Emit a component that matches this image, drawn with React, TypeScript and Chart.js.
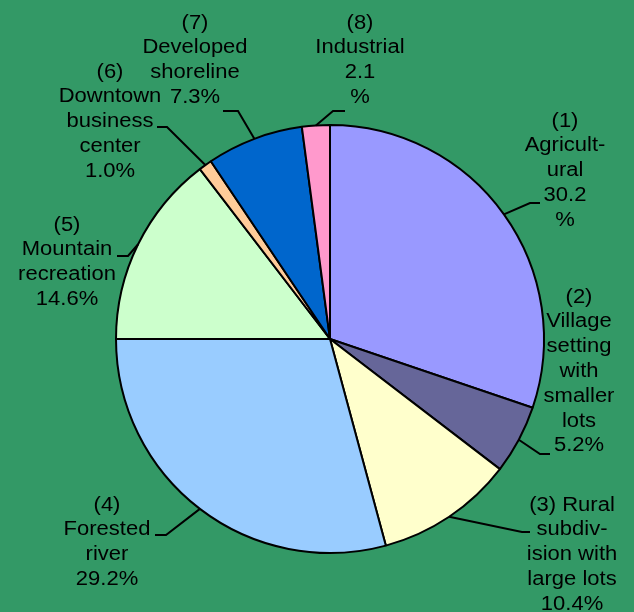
import React, { useEffect, useRef } from "react";
import { Chart, registerables } from "chart.js";

Chart.register(...registerables);

const categories = [
  "Agricultural",
  "Village setting with smaller lots",
  "Rural subdivision with large lots",
  "Forested river",
  "Mountain recreation",
  "Downtown business center",
  "Developed shoreline",
  "Industrial",
];
const percentages = [30.2, 5.2, 10.4, 29.2, 14.6, 1.0, 7.3, 2.1];
const sliceColors = ["#9999FF", "#666699", "#FFFFCC", "#99CCFF", "#CCFFCC", "#FFCC99", "#0066CC", "#FF99CC"];
const labelLines = [
  ["(1)", "Agricult-", "ural", "30.2", "%"],
  ["(2)", "Village", "setting", "with", "smaller", "lots", "5.2%"],
  ["(3) Rural", "subdiv-", "ision with", "large lots", "10.4%"],
  ["(4)", "Forested", "river", "29.2%"],
  ["(5)", "Mountain", "recreation", "14.6%"],
  ["(6)", "Downtown", "business", "center", "1.0%"],
  ["(7)", "Developed", "shoreline", "7.3%"],
  ["(8)", "Industrial", "2.1", "%"],
];

// label layout: text centre x, first line y, leader elbow, leader end
const labelLayout = [
  { cx: 565, y0: 121, elbow: [530, 203], end: [540, 203] },
  { cx: 579, y0: 297, elbow: [540, 454], end: [550, 454] },
  { cx: 572, y0: 505, elbow: [522, 532], end: [530, 532] },
  { cx: 107, y0: 505, elbow: [166, 535], end: [155, 535] },
  { cx: 67, y0: 225, elbow: [128, 256], end: [117, 256] },
  { cx: 110, y0: 72, elbow: [167, 127], end: [157, 127] },
  { cx: 195, y0: 23, elbow: [238, 111], end: [223, 111] },
  { cx: 360, y0: 23, elbow: [333, 111], end: [345, 111] },
];

const BG = "#339966";
const LINE_H = 24.8;

const bgPlugin = {
  id: "bgFill",
  beforeDraw(chart: any) {
    const ctx = chart.ctx;
    ctx.save();
    ctx.fillStyle = BG;
    ctx.fillRect(0, 0, chart.width, chart.height);
    ctx.restore();
  },
};

const labelPlugin = {
  id: "pieLabels",
  afterDatasetsDraw(chart: any) {
    const ctx = chart.ctx;
    const meta = chart.getDatasetMeta(0);
    ctx.save();
    meta.data.forEach((arc: any, i: number) => {
      const p = arc.getProps(["x", "y", "startAngle", "endAngle", "outerRadius"], true);
      const mid = (p.startAngle + p.endAngle) / 2;
      const sx = p.x + Math.cos(mid) * p.outerRadius;
      const sy = p.y + Math.sin(mid) * p.outerRadius;
      const lay = labelLayout[i];
      ctx.strokeStyle = "#000";
      ctx.lineWidth = 2;
      ctx.beginPath();
      ctx.moveTo(sx, sy);
      ctx.lineTo(lay.elbow[0], lay.elbow[1]);
      ctx.lineTo(lay.end[0], lay.end[1]);
      ctx.stroke();

      ctx.fillStyle = "#000";
      ctx.font = '20px "Liberation Sans", Arial, sans-serif';
      ctx.textAlign = "center";
      ctx.textBaseline = "middle";
      labelLines[i].forEach((line, k) => {
        ctx.save();
        ctx.translate(lay.cx, lay.y0 + k * LINE_H);
        ctx.scale(1.1, 1);
        ctx.fillText(line, 0, 0);
        ctx.restore();
      });
    });
    ctx.restore();
  },
};

export default function App() {
  const ref = useRef<HTMLCanvasElement | null>(null);
  useEffect(() => {
    document.body.style.margin = "0";
    const canvas = ref.current!;
    const chart = new Chart(canvas, {
      type: "pie",
      data: {
        labels: categories,
        datasets: [
          {
            data: percentages,
            backgroundColor: sliceColors,
            borderColor: "#000000",
            borderWidth: 2,
          },
        ],
      },
      options: {
        animation: false,
        responsive: false,
        devicePixelRatio: 1,
        layout: { padding: { left: 115, right: 89, top: 123, bottom: 57 } },
        plugins: {
          legend: { display: false },
          tooltip: { enabled: false },
        },
      },
      plugins: [bgPlugin, labelPlugin],
    });
    return () => chart.destroy();
  }, []);
  return <canvas ref={ref} width={634} height={612} style={{ display: "block" }} />;
}
